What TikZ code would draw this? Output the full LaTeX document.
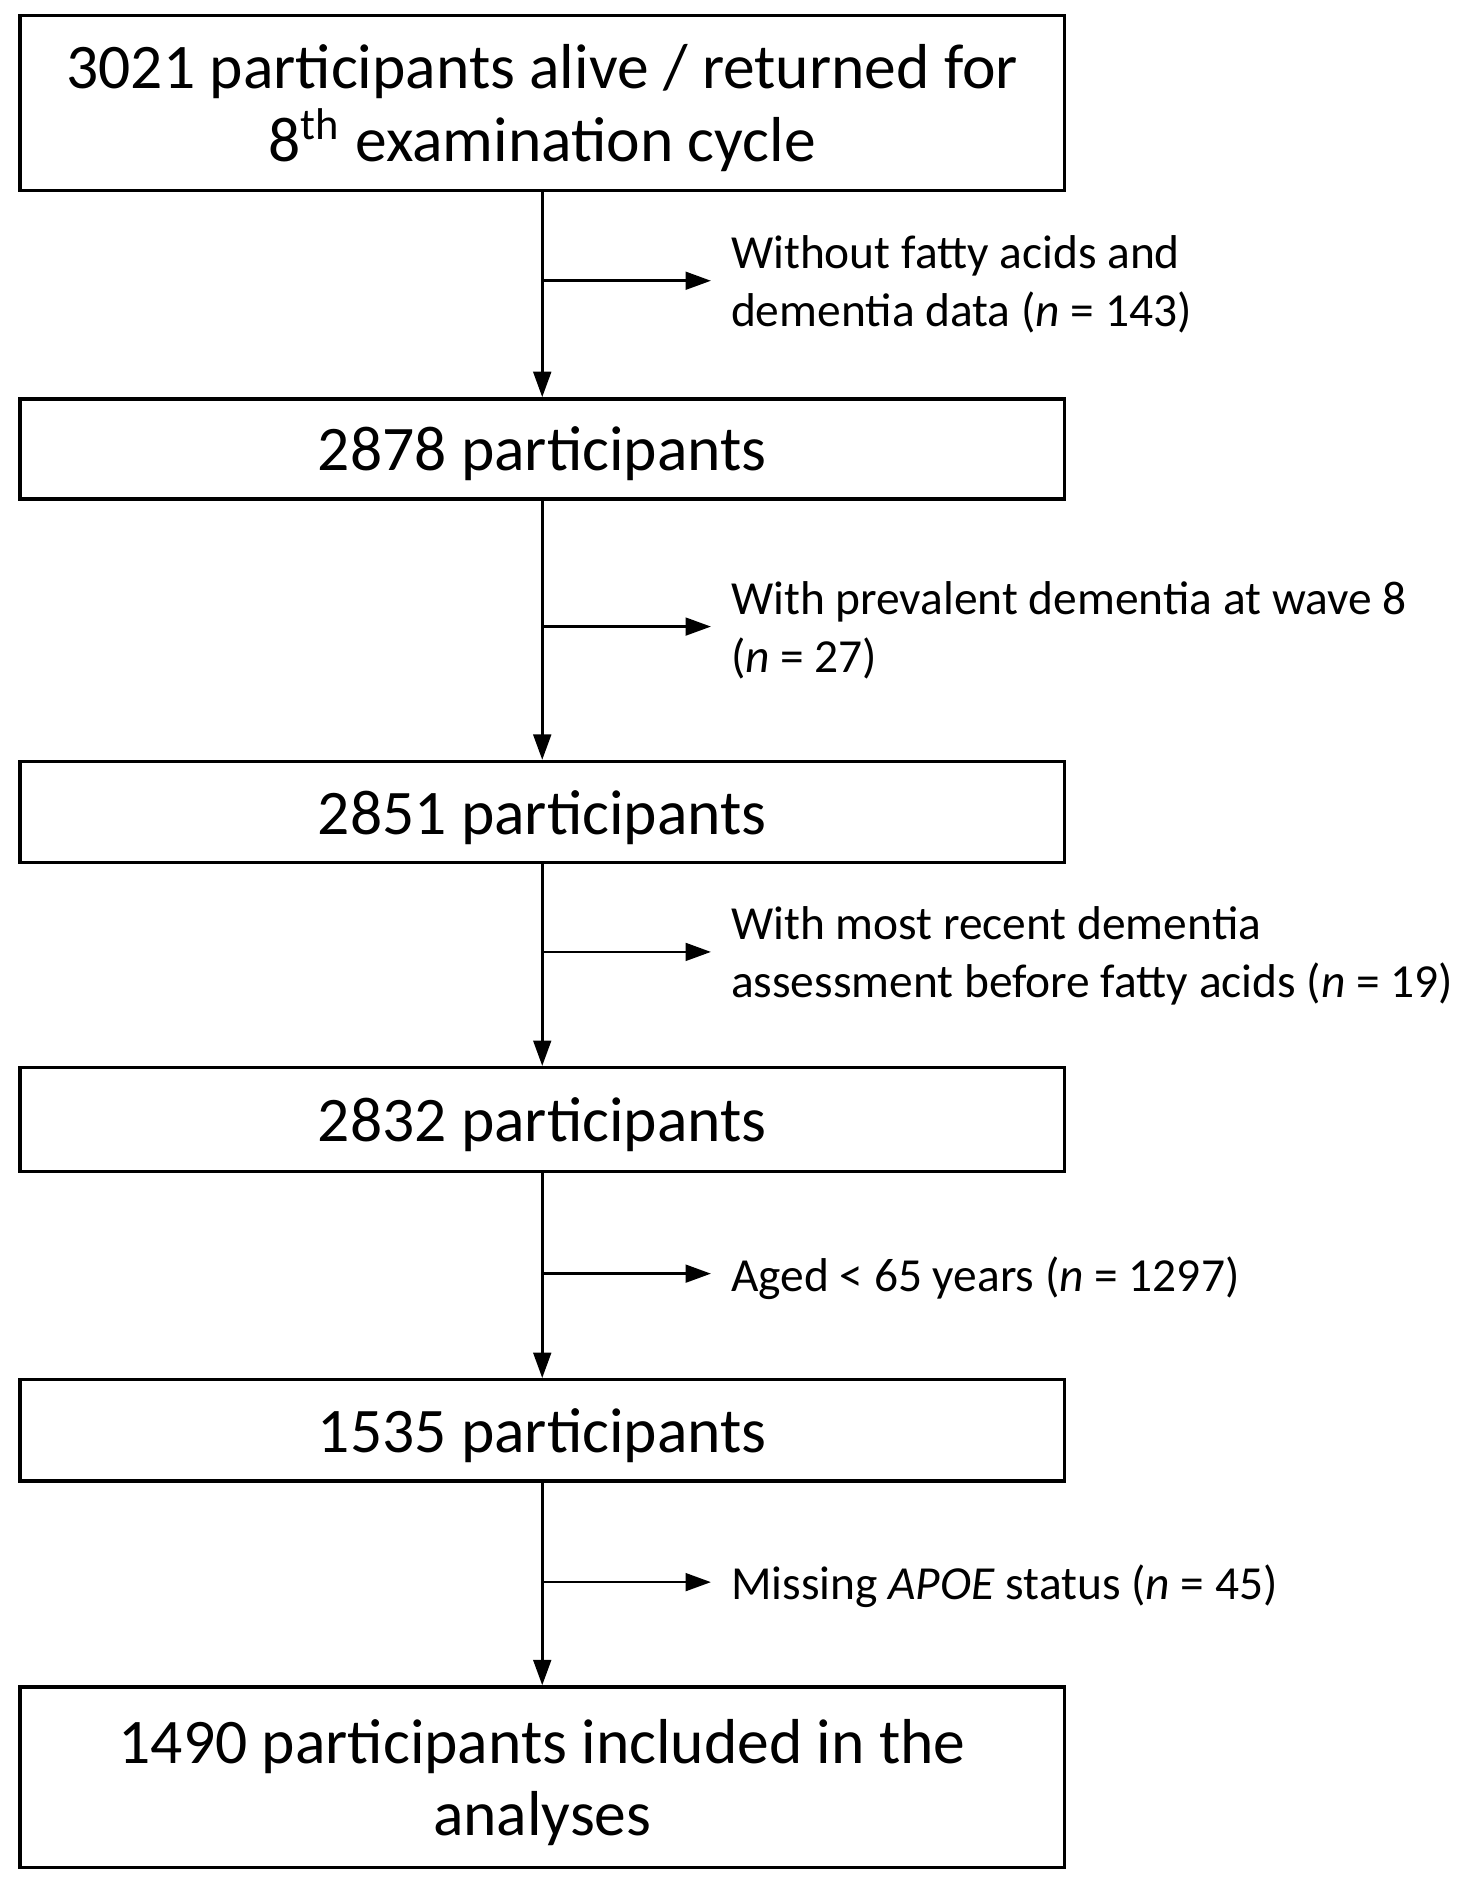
\documentclass[tikz,border=0pt]{standalone}
\usepackage{fontspec}
\setmainfont{Carlito}
\usetikzlibrary{arrows.meta}

\begin{document}
\begin{tikzpicture}[
    stagebox/.style={draw, line width=0.8pt, minimum width=8.67cm, align=center,
        font=\fontsize{15}{17.1}\selectfont, inner sep=0pt, text depth=0pt},
    exclnote/.style={anchor=west, align=left, inner sep=0.16cm, text depth=0pt,
        font=\fontsize{11.2}{13.7}\selectfont},
    flow/.style={line width=0.6pt, -{Triangle[length=6pt,width=4.2pt]}}
]
        \useasboundingbox (0,0) rectangle (12.30,-15.71) ;

        % stages
        \node[stagebox, minimum height=1.45cm] (b1) at (4.50,-0.855) {3021 participants alive / returned for\\8\textsuperscript{th} examination cycle} ;
        \node[stagebox, minimum height=0.83cm] (b2) at (4.50,-3.725) {2878 participants} ;
        \node[stagebox, minimum height=0.84cm] (b3) at (4.50,-6.74) {2851 participants} ;
        \node[stagebox, minimum height=0.86cm] (b4) at (4.50,-9.29) {2832 participants} ;
        \node[stagebox, minimum height=0.84cm] (b5) at (4.50,-11.87) {1535 participants} ;
        \node[stagebox, minimum height=1.50cm] (b6) at (4.50,-14.75) {1490 participants included in the\\analyses} ;

        % exclusions
        \node[exclnote] (s1) at (5.90,-2.33) {Without fatty acids and\\dementia data (\textit{n} = 143)} ;
        \node[exclnote] (s2) at (5.90,-5.20) {With prevalent dementia at wave 8\\(\textit{n} = 27)} ;
        \node[exclnote] (s3) at (5.90,-7.90) {With most recent dementia\\assessment before fatty acids (\textit{n} = 19)} ;
        \node[exclnote] (s4) at (5.90,-10.57) {Aged < 65 years (\textit{n} = 1297)} ;
        \node[exclnote] (s5) at (5.90,-13.13) {Missing \textit{APOE} status (\textit{n} = 45)} ;

        \coordinate (j1) at (4.50,-2.33) ;
        \coordinate (j2) at (4.50,-5.20) ;
        \coordinate (j3) at (4.50,-7.90) ;
        \coordinate (j4) at (4.50,-10.57) ;
        \coordinate (j5) at (4.50,-13.13) ;

        \draw[flow] (b1) -- (b2) ;
        \draw[flow] (b2) -- (b3) ;
        \draw[flow] (b3) -- (b4) ;
        \draw[flow] (b4) -- (b5) ;
        \draw[flow] (b5) -- (b6) ;

        \draw[flow] (j1) -- (s1.west) ;
        \draw[flow] (j2) -- (s2.west) ;
        \draw[flow] (j3) -- (s3.west) ;
        \draw[flow] (j4) -- (s4.west) ;
        \draw[flow] (j5) -- (s5.west) ;
\end{tikzpicture}
\end{document}
